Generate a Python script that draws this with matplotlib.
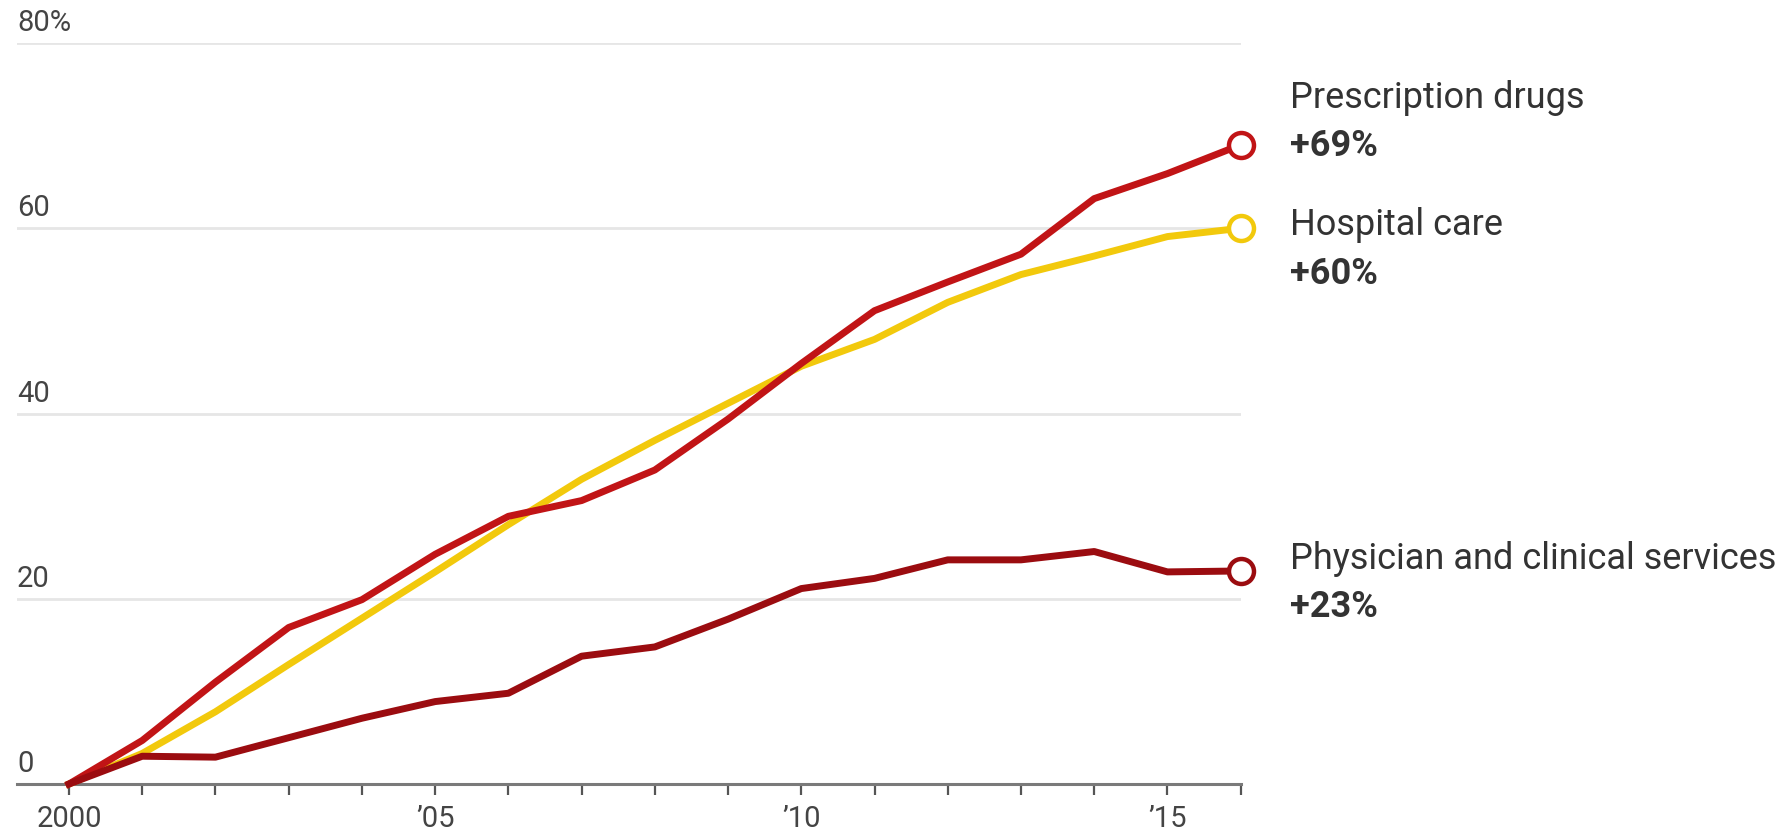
import matplotlib
matplotlib.use("Agg")
import matplotlib.pyplot as plt
import matplotlib.transforms as mtransforms

plt.rcParams['font.family'] = ['Roboto', 'DejaVu Sans']

years = list(range(2000, 2017))
prescription = [0, 4.7, 11, 16.9, 19.9, 24.8, 28.9, 30.6, 33.9, 39.4, 45.4, 51.1, 54.2, 57.2, 63.2, 65.9, 69]
hospital = [0, 3.3, 7.8, 12.9, 17.9, 22.9, 28, 32.9, 37.1, 41.1, 45.1, 48, 52, 55, 57, 59.1, 60]
physician = [0, 3, 2.9, 5, 7.1, 8.9, 9.8, 13.8, 14.8, 17.8, 21.1, 22.2, 24.2, 24.2, 25.1, 22.9, 23]

series_names = ["Prescription drugs", "Hospital care", "Physician and clinical services"]
series_changes = ["+69%", "+60%", "+23%"]
name_y = [74.1, 60.4, 24.3]
change_y = [68.9, 55.1, 19.1]

ytick_vals = [0, 20, 40, 60, 80]
ytick_labels = ["0", "20", "40", "60", "80%"]
xtick_vals = [2000, 2005, 2010, 2015]
xtick_labels = ["2000", "\u201905", "\u201910", "\u201915"]

RED = "#C11416"
DARKRED = "#9B0C10"
YELLOW = "#F2C90C"

fig = plt.figure(figsize=(17.89, 8.33), dpi=100)
ax = fig.add_axes([0.0095, 0.0588, 0.684, 0.8896])
ax.set_xlim(1999.29, 2016)
ax.set_ylim(0, 80)

for v in ytick_vals[1:]:
    ax.axhline(v, color="#e6e6e6", lw=2, zorder=0)

lw = 5
ax.plot(years, hospital, color=YELLOW, lw=lw, solid_joinstyle='round', zorder=3, clip_on=False)
ax.plot(years, prescription, color=RED, lw=lw, solid_joinstyle='round', zorder=4, clip_on=False)
ax.plot(years, physician, color=DARKRED, lw=lw, solid_joinstyle='round', zorder=4, clip_on=False)

for data, c in [(prescription, RED), (hospital, YELLOW), (physician, DARKRED)]:
    ax.plot([years[-1]], [data[-1]], marker='o', ms=18, mfc='white', mec=c, mew=3.2, zorder=6, clip_on=False)

for s in ['top', 'right', 'left']:
    ax.spines[s].set_visible(False)
ax.spines['bottom'].set_color("#7a7a7a")
ax.spines['bottom'].set_linewidth(2.2)
ax.spines['bottom'].set_zorder(2)

ax.set_xticks(years, minor=True)
ax.set_xticks(xtick_vals)
ax.set_xticklabels(xtick_labels)
ax.tick_params(axis='x', which='both', direction='out', length=8, width=1.6, color="#555555")
ax.tick_params(axis='x', which='major', labelsize=21, labelcolor="#444444", pad=7)
ax.set_yticks([])

offset = mtransforms.offset_copy(ax.get_yaxis_transform(), fig=fig, x=0, y=6, units='dots')
for v, lab in zip(ytick_vals, ytick_labels):
    ax.text(0, v, lab, transform=offset, ha='left', va='bottom', fontsize=21, color="#444444")

label_x = 2016.68
for nm, ch, ny, cy in zip(series_names, series_changes, name_y, change_y):
    ax.text(label_x, ny, nm, ha='left', va='center', fontsize=26, color="#333333", clip_on=False)
    ax.text(label_x, cy, ch, ha='left', va='center', fontsize=26, fontweight='bold', color="#333333", clip_on=False)

fig.savefig("out.png", dpi=100)
